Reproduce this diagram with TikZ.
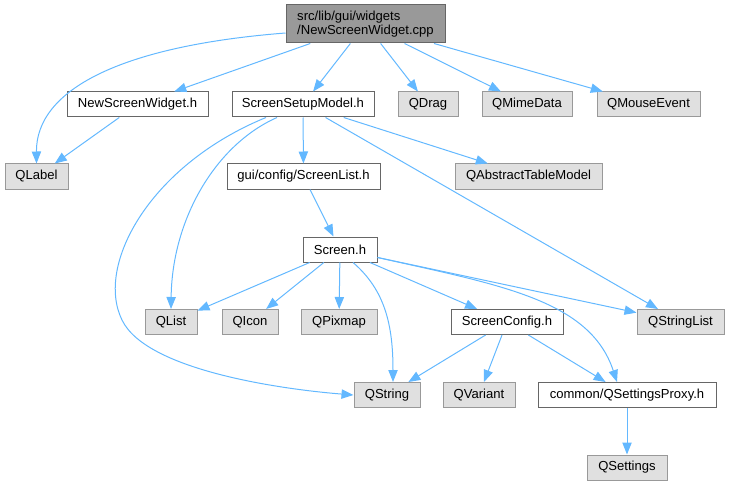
\documentclass[tikz,border=0pt]{standalone}
\usepackage{fontspec}
\setmainfont{Liberation Sans}
\usetikzlibrary{arrows.meta,calc}
\definecolor{edgec}{HTML}{63B8FF}
\definecolor{bordc}{HTML}{666666}
\definecolor{rootf}{HTML}{999999}
\definecolor{extb}{HTML}{999999}
\definecolor{extf}{HTML}{E0E0E0}
\begin{document}
\begin{tikzpicture}[x=0.75pt,y=-0.75pt,
  every node/.style={font=\fontsize{9.8}{10.5}\selectfont, inner sep=0pt, line width=0.75pt},
  wbox/.style={draw=bordc, fill=white, minimum height=25*0.75pt},
  ext/.style={draw=extb, fill=extf, minimum height=25*0.75pt},
  rootbox/.style={draw=bordc, fill=rootf},
  link/.style={draw=edgec, line width=0.75pt, -{Triangle[length=9pt,width=7pt]}}
]
\path[use as bounding box] (0,0) rectangle (729,485);

\node[rootbox, minimum width=159*0.75pt, minimum height=38*0.75pt, align=left] (root) at (365.5,24) {src/lib/gui/widgets\\/NewScreenWidget.cpp};
\node[wbox, minimum width=141*0.75pt] (nsw) at (137.5,104.5) {NewScreenWidget.h};
\node[wbox, minimum width=142*0.75pt] (ssm) at (303,104.5) {ScreenSetupModel.h};
\node[ext, minimum width=60*0.75pt] (qdrag) at (428,104.5) {QDrag};
\node[ext, minimum width=90*0.75pt] (qmime) at (527,104.5) {QMimeData};
\node[ext, minimum width=103*0.75pt] (qmouse) at (648.5,104.5) {QMouseEvent};
\node[ext, minimum width=63*0.75pt] (qlabel) at (36.5,176.5) {QLabel};
\node[wbox, minimum width=153*0.75pt] (slist) at (303.5,176.5) {gui/config/ScreenList.h};
\node[ext, minimum width=147*0.75pt] (qatm) at (528.5,176.5) {QAbstractTableModel};
\node[wbox, minimum width=74*0.75pt] (screen) at (340,249.5) {Screen.h};
\node[ext, minimum width=52*0.75pt] (qlist) at (171,322) {QList};
\node[ext, minimum width=56*0.75pt] (qicon) at (250,322) {QIcon};
\node[ext, minimum width=76*0.75pt] (qpix) at (339,322) {QPixmap};
\node[wbox, minimum width=112*0.75pt] (sconf) at (507,322) {ScreenConfig.h};
\node[ext, minimum width=87*0.75pt] (qsl) at (680.5,322) {QStringList};
\node[ext, minimum width=66*0.75pt] (qstr) at (387,395) {QString};
\node[ext, minimum width=72*0.75pt] (qvar) at (479,395) {QVariant};
\node[wbox, minimum width=178*0.75pt] (qsp) at (627,395) {common/QSettingsProxy.h};
\node[ext, minimum width=80*0.75pt] (qset) at (627,467.5) {QSettings};

% root edges
\draw[link] ($(root.west)+(0,9)$) .. controls (120,46) and (36,90) .. (qlabel.north);
\draw[link] (root) -- (nsw);
\draw[link] (root) -- (ssm);
\draw[link] (root) -- (qdrag);
\draw[link] (root) -- (qmime);
\draw[link] (root) -- (qmouse);
% NewScreenWidget.h
\draw[link] (nsw) -- (qlabel);
% ScreenSetupModel.h
\draw[link] (ssm) -- (slist);
\draw[link] (ssm) -- (qatm);
\draw[link] (ssm) -- (qsl);
\draw[link] ($(ssm.south)+(-26,0)$) .. controls (215,145) and (172,220) .. (qlist.north);
\draw[link] ($(ssm.south)+(-37,0)$) .. controls (150,165) and (95,265) .. (122,320)
  .. controls (147,372) and (290,390) .. (qstr.west);
% ScreenList.h
\draw[link] (slist) -- (screen);
% Screen.h
\draw[link] (screen) -- (qlist);
\draw[link] (screen) -- (qicon);
\draw[link] (screen) -- (qpix);
\draw[link] (screen) -- (sconf);
\draw[link] (screen) -- (qsl);
\draw[link] ($(screen.south)+(13,0)$) .. controls (385,290) and (393,325) .. ($(qstr.north)+(6,0)$);
\draw[link] ($(screen.east)+(0,8)$) .. controls (500,285) and (590,300) .. ($(qsp.north)+(-10,0)$);
% ScreenConfig.h
\draw[link] (sconf) -- (qstr);
\draw[link] (sconf) -- (qvar);
\draw[link] (sconf) -- (qsp);
% QSettingsProxy
\draw[link] (qsp) -- (qset);
\end{tikzpicture}
\end{document}
